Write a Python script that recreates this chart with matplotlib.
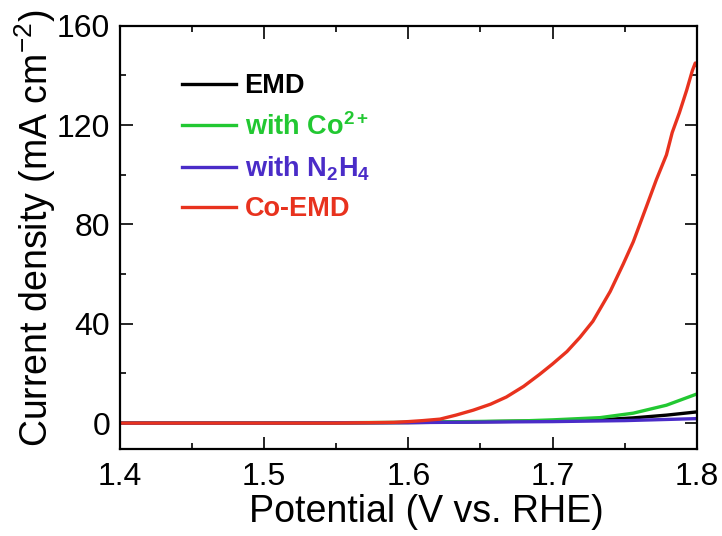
import matplotlib
matplotlib.use("Agg")
import matplotlib.pyplot as plt
from matplotlib.ticker import MultipleLocator

plt.rcParams['font.family'] = ['Liberation Sans', 'DejaVu Sans']
plt.rcParams['mathtext.fontset'] = 'custom'
plt.rcParams['mathtext.rm'] = 'Liberation Sans'
plt.rcParams['mathtext.bf'] = 'Liberation Sans:bold'
plt.rcParams['mathtext.it'] = 'Liberation Sans:italic'

# data (potential in V vs RHE, current density in mA cm-2)
emd_v = [1.40, 1.50, 1.60, 1.70, 1.733, 1.756, 1.779, 1.800]
emd_j = [0.0, 0.0, 0.2, 0.9, 1.3, 2.1, 3.2, 4.5]

co_v = [1.40, 1.50, 1.60, 1.68, 1.70, 1.733, 1.756, 1.779, 1.800]
co_j = [0.0, 0.0, 0.3, 0.9, 1.3, 2.2, 4.0, 7.2, 11.7]

n2h4_v = [1.40, 1.50, 1.60, 1.70, 1.75, 1.800]
n2h4_j = [0.0, 0.0, 0.2, 0.6, 1.0, 1.8]

coemd_v = [1.40, 1.55, 1.59, 1.60, 1.61, 1.622, 1.633, 1.645, 1.657, 1.668,
           1.680, 1.691, 1.700, 1.710, 1.719, 1.728, 1.740, 1.749, 1.756,
           1.765, 1.772, 1.779, 1.783, 1.788, 1.793, 1.797, 1.799, 1.800]
coemd_j = [0.0, 0.0, 0.3, 0.6, 1.0, 1.6, 3.2, 5.2, 7.6, 10.5,
           14.8, 19.6, 23.8, 28.8, 34.5, 41.0, 53.0, 64.0, 73.0,
           87.0, 98.0, 108.0, 117.0, 125.0, 134.0, 142.0, 145.0, 144.0]

labels = ['EMD', r'with Co$^{\mathbf{2+}}$', r'with N$_{\mathbf{2}}$H$_{\mathbf{4}}$', 'Co-EMD']
colors = ['black', '#22c832', '#4a2cc8', '#e8321e']

fig = plt.figure(figsize=(7.22, 5.36), dpi=100)
ax = fig.add_axes([0.166, 0.162, 0.799, 0.790])

series = [(emd_v, emd_j), (co_v, co_j), (n2h4_v, n2h4_j), (coemd_v, coemd_j)]
for (v, j), lab, c in zip(series, labels, colors):
    ax.plot(v, j, color=c, lw=2.4, label=lab)

ax.set_xlim(1.4, 1.8)
ax.set_ylim(-10.5, 160)
ax.xaxis.set_major_locator(MultipleLocator(0.1))
ax.xaxis.set_minor_locator(MultipleLocator(0.05))
ax.yaxis.set_major_locator(MultipleLocator(40))
ax.yaxis.set_minor_locator(MultipleLocator(20))
ax.xaxis.set_major_formatter(plt.FuncFormatter(lambda x, p: f'{x:.1f}'))

ax.tick_params(which='both', direction='in', top=True, right=True, width=1.2,
               labelsize=23, pad=7)
ax.tick_params(axis='x', pad=9)
ax.tick_params(which='major', length=9)
ax.tick_params(which='minor', length=4.5)
for s in ax.spines.values():
    s.set_linewidth(1.6)

ax.set_xlabel('Potential (V vs. RHE)', fontsize=27)
ax.set_ylabel('Current density (mA cm$^{-2}$)', fontsize=27)
ax.xaxis.set_label_coords(0.532, -0.105)
ax.yaxis.set_label_coords(-0.108, 0.522)

leg = ax.legend(loc='upper left', bbox_to_anchor=(0.066, 0.945), frameon=False,
                prop={'weight': 'bold', 'size': 19.5}, labelcolor='linecolor',
                handlelength=2.0, handletextpad=0.3, labelspacing=0.5)

fig.savefig('out.png', dpi=100)
